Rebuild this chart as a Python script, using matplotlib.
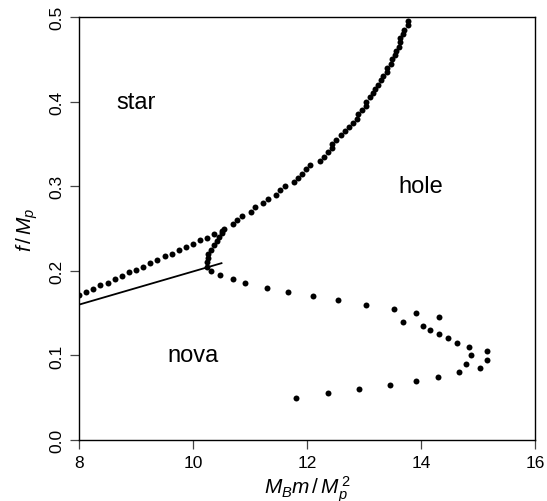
import matplotlib
matplotlib.use("Agg")
import matplotlib.pyplot as plt

plt.rcParams["font.family"] = ["Liberation Sans", "DejaVu Sans"]
plt.rcParams["mathtext.fontset"] = "custom"
plt.rcParams["mathtext.rm"] = "Liberation Sans"
plt.rcParams["mathtext.it"] = "Liberation Sans:italic"

# dotted boundary star/nova (left, roughly straight)
left_x = [8.000, 8.125, 8.250, 8.375, 8.500, 8.625, 8.750, 8.875, 9.000, 9.125,
          9.250, 9.375, 9.500, 9.625, 9.750, 9.875, 10.000, 10.125, 10.250,
          10.375, 10.500]
left_y = [0.171, 0.175, 0.179, 0.183, 0.186, 0.190, 0.194, 0.198, 0.201, 0.205,
          0.209, 0.213, 0.217, 0.220, 0.224, 0.228, 0.232, 0.236, 0.239,
          0.243, 0.247]

# star/hole boundary (upper curve)
upper_y = [0.205, 0.210, 0.215, 0.220, 0.225, 0.230, 0.235, 0.240, 0.245, 0.250,
           0.255, 0.260, 0.265, 0.270, 0.275, 0.280, 0.285, 0.290, 0.295, 0.300,
           0.305, 0.310, 0.315, 0.320, 0.325, 0.330, 0.335, 0.340, 0.345, 0.350,
           0.355, 0.360, 0.365, 0.370, 0.375, 0.380, 0.385, 0.390, 0.395, 0.400,
           0.405, 0.410, 0.415, 0.420, 0.425, 0.430, 0.435, 0.440, 0.445, 0.450,
           0.455, 0.460, 0.465, 0.470, 0.475, 0.480, 0.485, 0.490, 0.495]
upper_x = [10.25, 10.25, 10.26, 10.26, 10.31, 10.37, 10.42, 10.46, 10.51, 10.54,
           10.71, 10.78, 10.86, 11.01, 11.08, 11.23, 11.32, 11.46, 11.53, 11.61,
           11.77, 11.84, 11.91, 11.99, 12.06, 12.22, 12.29, 12.36, 12.44, 12.44,
           12.51, 12.59, 12.66, 12.74, 12.81, 12.88, 12.89, 12.96, 13.04, 13.04,
           13.11, 13.15, 13.20, 13.25, 13.29, 13.33, 13.40, 13.41, 13.47, 13.49,
           13.54, 13.56, 13.62, 13.63, 13.64, 13.69, 13.70, 13.77, 13.78]

# nova/hole boundary (lower curve)
lower_y = [0.200, 0.195, 0.190, 0.185, 0.180, 0.175, 0.170, 0.165, 0.160, 0.155,
           0.150, 0.145, 0.140, 0.135, 0.130, 0.125, 0.120, 0.115, 0.110, 0.105,
           0.100, 0.095, 0.090, 0.085, 0.080, 0.075, 0.070, 0.065, 0.060, 0.055,
           0.050]
lower_x = [10.32, 10.48, 10.70, 10.92, 11.30, 11.67, 12.11, 12.54, 13.03, 13.53,
           13.92, 14.32, 13.68, 14.04, 14.16, 14.32, 14.48, 14.63, 14.85, 15.15,
           14.87, 15.15, 14.79, 15.04, 14.67, 14.29, 13.92, 13.46, 12.92, 12.37,
           11.81]

# solid line
line_x = [8.0, 10.5]
line_y = [0.160, 0.209]

regions = ["star", "hole", "nova"]
region_x = [9.0, 14.0, 10.0]
region_y = [0.40, 0.30, 0.10]

fig = plt.figure(figsize=(5.47, 5.02), dpi=100)
ax = fig.add_axes([79 / 547, 61 / 502, 456 / 547, 423 / 502])

dot = dict(linestyle="none", marker="o", markersize=4.3, color="black",
           markeredgewidth=0)
ax.plot(left_x, left_y, **dot)
ax.plot(upper_x, upper_y, **dot)
ax.plot(lower_x, lower_y, **dot)
ax.plot(line_x, line_y, color="black", linewidth=1.3)

for name, tx, ty in zip(regions, region_x, region_y):
    ax.text(tx, ty, name, fontsize=17, ha="center", va="center")

ax.set_xlim(8, 16)
ax.set_ylim(0, 0.5)
ax.set_xticks([8, 10, 12, 14, 16])
ax.set_yticks([0.0, 0.1, 0.2, 0.3, 0.4, 0.5])
ax.set_yticklabels(["0.0", "0.1", "0.2", "0.3", "0.4", "0.5"],
                   rotation=90, va="center")
ax.tick_params(direction="out", length=6.5, width=0.9, labelsize=12.5, pad=4,
               color="#444444")
for s in ax.spines.values():
    s.set_linewidth(1.0)

ax.set_xlabel(r"$M_B m\,/\,M_p^{\,2}$", fontsize=15, labelpad=3)
ax.set_ylabel(r"$f\,/\,M_p$", fontsize=15, labelpad=7)

fig.savefig("out.png", dpi=100)
